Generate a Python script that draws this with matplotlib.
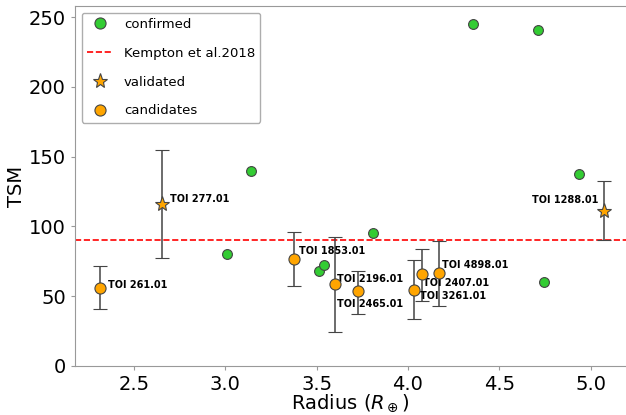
import matplotlib
matplotlib.use('Agg')
import matplotlib.pyplot as plt
from matplotlib.lines import Line2D

# confirmed planets
conf_radius = [3.011, 3.139, 3.515, 3.540, 3.811, 4.355, 4.714, 4.747, 4.935]
conf_tsm = [80.5, 139.8, 68.1, 72.4, 95.2, 245.0, 240.9, 60.2, 137.6]

# validated planets
val_names = ['TOI 277.01', 'TOI 1288.01']
val_radius = [2.652, 5.072]
val_tsm = [116.2, 111.4]
val_err_lo = [38.6, 20.9]
val_err_hi = [38.6, 21.0]

# candidates
cand_names = ['TOI 261.01', 'TOI 1853.01', 'TOI 2196.01', 'TOI 2465.01',
              'TOI 3261.01', 'TOI 2407.01', 'TOI 4898.01']
cand_radius = [2.314, 3.378, 3.599, 3.725, 4.035, 4.077, 4.169]
cand_tsm = [56.2, 77.0, 58.6, 53.4, 54.8, 65.7, 66.6]
cand_err_lo = [15.5, 19.5, 34.3, 16.0, 21.2, 18.8, 23.5]
cand_err_hi = [15.4, 19.1, 33.5, 14.7, 20.9, 18.1, 23.2]

kempton_cut = 90

# label offsets in points (dx, dy, ha)
val_offsets = [(6, 3.5, 'left'), (-4, 7.5, 'right')]
cand_offsets = [(6, 2, 'left'), (3, 5.5, 'left'), (2, 4, 'left'), (-15, -9, 'left'),
                (4, -5, 'left'), (1, -6.5, 'left'), (2, 5.5, 'left')]

fig = plt.figure(figsize=(6.26, 4.15), dpi=100)
ax = fig.add_axes([0.1198, 0.1181, 0.8802, 0.8675])

ax.scatter(conf_radius, conf_tsm, s=50, color='#33cc33', edgecolor='#444444',
           linewidth=0.8, zorder=4)
ax.axhline(kempton_cut, color='red', linestyle='--', linewidth=1.2, zorder=2)
ax.errorbar(val_radius, val_tsm, yerr=[val_err_lo, val_err_hi], fmt='*',
            markersize=11, color='orange', markeredgecolor='#444444',
            markeredgewidth=0.8, ecolor='#444444', elinewidth=1.1, capsize=5,
            zorder=3)
ax.errorbar(cand_radius, cand_tsm, yerr=[cand_err_lo, cand_err_hi], fmt='o',
            markersize=8, color='orange', markeredgecolor='#444444',
            markeredgewidth=0.8, ecolor='#444444', elinewidth=1.1, capsize=5,
            zorder=3)

for name, x, y, (dx, dy, ha) in zip(val_names, val_radius, val_tsm, val_offsets):
    ax.annotate(name, (x, y), xytext=(dx, dy), textcoords='offset points',
                fontsize=7, fontweight='bold', ha=ha, va='center')
for name, x, y, (dx, dy, ha) in zip(cand_names, cand_radius, cand_tsm, cand_offsets):
    ax.annotate(name, (x, y), xytext=(dx, dy), textcoords='offset points',
                fontsize=7, fontweight='bold', ha=ha, va='center')

ax.set_xlim(2.177, 5.194)
ax.set_ylim(0, 258)
ax.set_xticks([2.5, 3.0, 3.5, 4.0, 4.5, 5.0])
ax.set_yticks([0, 50, 100, 150, 200, 250])
ax.tick_params(labelsize=14, color='0.6', length=3)
ax.set_xlabel(r'Radius ($R_\oplus$)', fontsize=14, labelpad=-1)
ax.set_ylabel('TSM', fontsize=14, labelpad=2)
for side in ['left', 'bottom', 'top']:
    ax.spines[side].set_color('0.6')
ax.spines['right'].set_visible(False)

# legend shows markers only (no error bars)
handles = [
    Line2D([], [], marker='o', linestyle='none', markersize=8, markerfacecolor='#33cc33',
           markeredgecolor='#444444', markeredgewidth=0.8),
    Line2D([], [], color='red', linestyle='--', linewidth=1.2),
    Line2D([], [], marker='*', linestyle='none', markersize=11, markerfacecolor='orange',
           markeredgecolor='#444444', markeredgewidth=0.8),
    Line2D([], [], marker='o', linestyle='none', markersize=8, markerfacecolor='orange',
           markeredgecolor='#444444', markeredgewidth=0.8),
]
labels = ['confirmed', 'Kempton et al.2018', 'validated', 'candidates']
ax.legend(handles, labels, loc='upper left', fontsize=9.5, labelspacing=1.2,
          edgecolor='0.6')

plt.savefig('out.png', dpi=100)
